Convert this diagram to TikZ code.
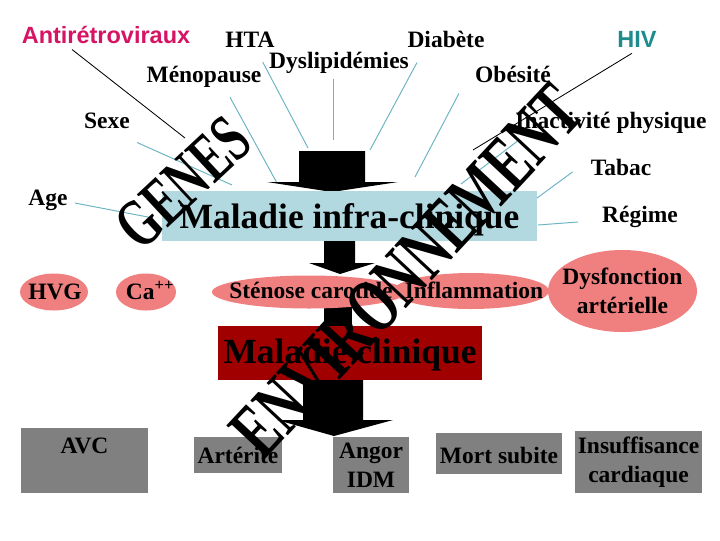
\documentclass[tikz,border=0pt]{standalone}
\usepackage{fontspec}
\setmainfont{Liberation Serif}
\newfontfamily\arialfont{Liberation Sans}
\usetikzlibrary{shapes.geometric,calc}
\newdimen\pxu \pxu=0.025cm
\definecolor{bleuclair}{RGB}{178,216,224}
\definecolor{rosepale}{RGB}{240,128,128}
\definecolor{rougefonce}{RGB}{160,0,0}
\definecolor{grisboite}{RGB}{128,128,128}
\definecolor{trait}{RGB}{110,180,195}
\definecolor{magentatxt}{RGB}{214,20,100}
\definecolor{sarcelle}{RGB}{30,140,140}
\newcommand\txtlab{\fontsize{16.7}{20.5}\selectfont\bfseries}
\newcommand\txtsans{\arialfont\fontsize{16.7}{20.5}\selectfont\bfseries}
\newcommand\txtgrand{\fontsize{25.2}{30}\selectfont\bfseries}
\newcommand\motgenes[1]{\scalebox{1}[1.5]{\fontsize{32.7}{34}\selectfont\bfseries #1}}
\newcommand\motenv[1]{\scalebox{1}[1.5]{\fontsize{37}{38}\selectfont\bfseries #1}}
\begin{document}
\begin{tikzpicture}[x=0.025cm, y=-0.025cm,
  etiq/.style={font=\txtlab, anchor=base, inner sep=1\pxu},
  lien/.style={draw=trait, line width=0.7pt},
  fil/.style={draw=black, line width=0.6pt},
  ovale/.style={ellipse, fill=rosepale, inner sep=0pt},
  boite/.style={rectangle, fill=grisboite, inner sep=0pt, font=\txtlab, align=center}]
\useasboundingbox (0,0) rectangle (720,540);
% Facteurs
\node[etiq, font=\txtsans, text=magentatxt] (antiretro) at (106,43) {Antirétroviraux};
\node[etiq] (hta) at (250,47) {HTA};
\node[etiq] (diabete) at (446,47) {Diabète};
\node[etiq, font=\txtsans, text=sarcelle] (hiv) at (637,47) {HIV};
\node[etiq] (meno) at (204,82) {Ménopause};
\node[etiq] (dysl) at (339,68) {Dyslipidémies};
\node[etiq] (obes) at (513,82) {Obésité};
\node[etiq] (sexe) at (107,128) {Sexe};
\node[etiq] (inact) at (611,128) {Inactivité physique};
\node[etiq] (tabac) at (621,175) {Tabac};
\node[etiq] (age) at (48,205) {Age};
\node[etiq] (regime) at (640,222) {Régime};
% Points d'arrivée des traits
\coordinate (fSexe) at (232,185);
\coordinate (fMeno) at (277,183);
\coordinate (fHta) at (308,148);
\coordinate (fDysl) at (333,140);
\coordinate (fDiab) at (370,150);
\coordinate (fObes) at (415,177);
\coordinate (fInact) at (461,184);
\coordinate (fTabac) at (537,198);
\coordinate (fRegime) at (538,225);
\coordinate (fAge) at (153,218);
\coordinate (fAntiretro) at (185,138);
\coordinate (fHiv) at (473,150);
% Traits
\draw[lien] ($(sexe.south east)+(6,13)$) -- (fSexe);
\draw[lien] ($(meno.south)+(26,9)$) -- (fMeno);
\draw[lien] ($(hta.south east)+(-13,14)$) -- (fHta);
\draw[lien] ($(dysl.south)+(-6,5)$) -- (fDysl);
\draw[lien] ($(diabete.south)+(-29,14)$) -- (fDiab);
\draw[lien] ($(obes.south west)+(-15,10)$) -- (fObes);
\draw[lien] ($(inact.south west)+(3,7)$) -- (fInact);
\draw[lien] ($(tabac.west)+(-17,5)$) -- (fTabac);
\draw[lien] ($(regime.base west)+(-23,0)$) -- (fRegime);
\draw[lien] ($(age.base east)+(6,-2)$) -- (fAge);
\draw[fil] ($(antiretro.south)+(-34,5)$) -- (fAntiretro);
\draw[fil] ($(hiv.south)+(-5,5)$) -- (fHiv);
% Fleche du haut
\fill (299,151) -- (365,151) -- (365,182) -- (398,182) -- (332,192) -- (267,182) -- (299,182) -- cycle;
% Maladie infra-clinique
\node[fill=bleuclair, inner sep=0pt, minimum width=375\pxu, minimum height=50\pxu,
  font=\txtgrand, text height=24\pxu, text depth=0pt] (infra) at (349.5,216) {Maladie infra-clinique};
\fill (324,241) -- (355,241) -- (355,263) -- (375,263) -- (340,274) -- (309,263) -- (324,263) -- cycle;
\fill (324,300) rectangle (352,330);
% Ovales
\node[ovale, minimum width=68\pxu, minimum height=37\pxu] (hvg) at (54,292) {};
\node[ovale, minimum width=60\pxu, minimum height=37\pxu] (ca) at (146,292) {};
\node[ovale, minimum width=194\pxu, minimum height=33\pxu] (stenose) at (309,292) {};
\node[ovale, minimum width=156\pxu, minimum height=36\pxu] (inflam) at (471,291) {};
\node[ovale, minimum width=149\pxu, minimum height=82\pxu] (dysf) at (622.5,291) {};
\node[etiq] (t-hvg) at (55,299) {HVG};
\node[etiq] (t-ca) at (150,299) {Ca\textsuperscript{++}};
\node[etiq] (t-stenose) at (311,298) {Sténose carotide};
\node[etiq] (t-inflam) at (474,298) {Inflammation};
\node[font=\txtlab, align=center, inner sep=0pt] (t-dysf) at (dysf.center) {Dysfonction\\artérielle};
% Maladie clinique
\node[fill=rougefonce, inner sep=0pt, minimum width=264\pxu, minimum height=54\pxu,
  font=\txtgrand, text height=20\pxu, text depth=0pt] (clinique) at (350,353) {Maladie clinique};
\fill (303,380) -- (363,380) -- (363,420) -- (393,420) -- (334,436) -- (277,420) -- (303,420) -- cycle;
% Complications
\node[boite, minimum width=127\pxu, minimum height=65\pxu, text height=16\pxu, text depth=31\pxu] (avc) at (84.5,460.5) {AVC};
\node[boite, minimum width=88\pxu, minimum height=36\pxu, text height=16\pxu, text depth=0pt] (arterite) at (238,455) {Artérite};
\node[boite, minimum width=76\pxu, minimum height=56\pxu] (angor) at (371,465) {Angor\\IDM};
\node[boite, minimum width=126\pxu, minimum height=41\pxu, text height=19\pxu, text depth=0pt] (mort) at (499,453.5) {Mort subite};
\node[boite, minimum width=127\pxu, minimum height=62\pxu] (insuf) at (638.5,462) {Insuffisance\\cardiaque};
% Genes et environnement
\node[rotate=43, inner sep=0pt] (genes) at (183,183) {\motgenes{GENES}};
\node[rotate=47, inner sep=0pt] (env) at (407,271) {\motenv{ENVIRONNEMENT}};
\end{tikzpicture}
\end{document}
